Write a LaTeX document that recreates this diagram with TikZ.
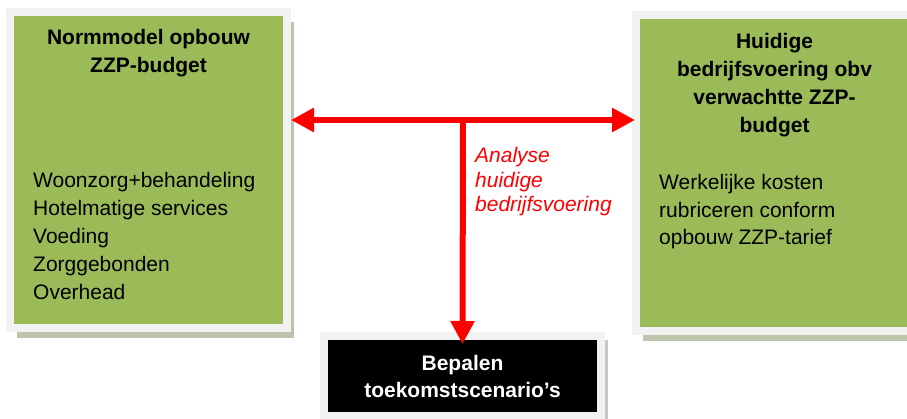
\documentclass[tikz,border=0pt]{standalone}
\usepackage{fontspec}
\setmainfont{Liberation Sans}
\usetikzlibrary{arrows.meta,shadows}
\definecolor{blokgroen}{HTML}{9BBB59}
\definecolor{randgrijs}{HTML}{F2F2F2}
\definecolor{schaduwgroen}{HTML}{BCC4AC}
\definecolor{schaduwgrijs}{HTML}{C8C8C8}
\begin{document}
\begin{tikzpicture}[x=1pt, y=-1pt,
		blok/.style={draw=randgrijs, line width=8pt, fill=blokgroen, minimum width=277pt, minimum height=316pt,
			drop shadow={shadow xshift=7pt, shadow yshift=-10pt, fill=schaduwgroen, opacity=1}},
		kop/.style={font=\fontsize{21}{28.3}\selectfont\bfseries, align=center, anchor=base, inner sep=0pt},
		lijst/.style={font=\fontsize{21}{28.2}\selectfont, align=left, anchor=base west, inner sep=0pt},
		pijl/.style={draw=red, line width=6pt}]
		\useasboundingbox (0,0) rectangle (907,419);
		\clip (0,0) rectangle (907,419);

		\node (norm)[blok] at (148.5,170) {};
		\node (huidig)[blok] at (774.5,173) {};
		\node (bepalen)[draw=randgrijs, line width=8pt, fill=black, minimum width=277pt, minimum height=80pt,
			drop shadow={shadow xshift=7pt, shadow yshift=-4pt, fill=schaduwgrijs, opacity=1},
			text=white, font=\fontsize{21}{27}\selectfont\bfseries, align=center] at (462.5,376) {Bepalen\\toekomstscenario’s};

		\node (normkop)[kop] at (148.5,73) {Normmodel opbouw\\ZZP-budget};
		\node (normlijst)[lijst] at (33,300) {Woonzorg+behandeling\\Hotelmatige services\\Voeding\\Zorggebonden\\Overhead};

		\node (huidigkop)[kop] at (774.5,133) {Huidige\\bedrijfsvoering obv\\verwachtte ZZP-\\budget};
		\node (huidiglijst)[lijst, font=\fontsize{21}{27.5}\selectfont] at (659,245) {Werkelijke kosten\\rubriceren conform\\opbouw ZZP-tarief};

		\coordinate (splits) at (463,120);
		\draw [pijl, {Triangle[length=23pt, width=23pt]}-{Triangle[length=23pt, width=23pt]}]
			(splits -| norm.east) -- ([xshift=3pt]splits -| huidig.west);
		\draw [pijl, -{Triangle[length=23pt, width=23pt]}] (splits) -- ([yshift=-12pt]bepalen.north);

		\node (analyse)[font=\fontsize{21}{24.5}\selectfont\itshape, text=red, align=left, anchor=base west, inner sep=0pt]
			at (475,212) {Analyse\\huidige\\bedrijfsvoering};
	\end{tikzpicture}
\end{document}
